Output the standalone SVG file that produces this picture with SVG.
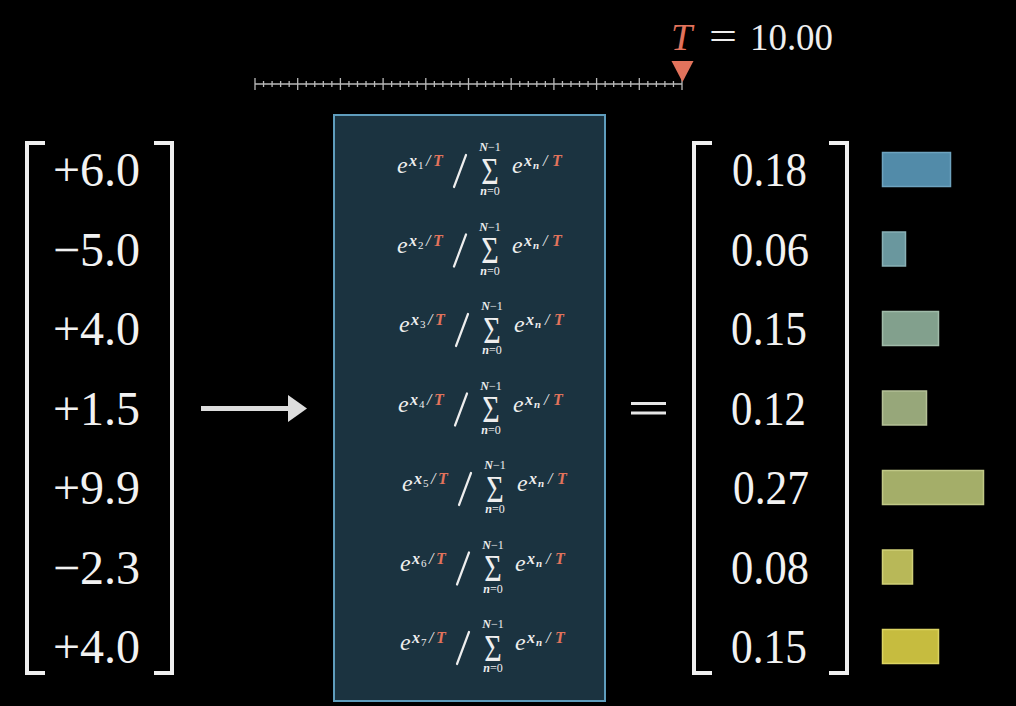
<svg xmlns="http://www.w3.org/2000/svg" width="1016" height="706" viewBox="0 0 1016 706">
<defs>
<style>
.num{font-family:"Liberation Serif","DejaVu Serif",serif;font-size:48px;fill:#f2f2f2}
.m{font-family:"Liberation Serif","DejaVu Serif",serif;fill:#eeeeee}
.it{font-style:italic}
.bx{font-weight:bold;font-style:italic}
.or{fill:#e2735c}
.br{fill:none;stroke:#f0f0f0;stroke-width:4}
.bar{stroke-width:1.5}
.sl{stroke:#eeeeee;stroke-width:2.2;stroke-linecap:round}
</style>
<g id="frac">
<text class="m it" x="397" y="173" font-size="24">e</text>
<text class="m bx" x="409" y="166" font-size="16">x</text>
<text class="m it" x="426" y="166" font-size="16">/</text>
<text class="m it or" x="433" y="166" font-size="16" font-weight="bold">T</text>
<line class="sl" x1="454" y1="187" x2="466" y2="155"/>
<text class="m" x="490" y="151" font-size="12" text-anchor="middle"><tspan font-style="italic" font-weight="bold">N</tspan>−1</text>
<text class="m" x="490" y="184" font-size="30" text-anchor="middle" transform="translate(490,184) scale(1,1.25) translate(-490,-184)">Σ</text>
<text class="m" x="490" y="195" font-size="12" text-anchor="middle"><tspan font-style="italic" font-weight="bold">n</tspan>=0</text>
<text class="m it" x="512" y="173" font-size="24">e</text>
<text class="m bx" x="524" y="166" font-size="16">x</text>
<text class="m bx" x="533" y="169" font-size="11">n</text>
<text class="m it" x="543" y="166" font-size="16">/</text>
<text class="m it or" x="552" y="166" font-size="16" font-weight="bold">T</text>
</g>
</defs>
<rect width="1016" height="706" fill="#000"/>

<g id="slider">
<line x1="255" y1="84" x2="682" y2="84" stroke="#b8b8b8" stroke-width="1.5"/>
<path stroke="#b8b8b8" stroke-width="1.3" d="M255 78V90M263.54 81V87M272.08 81V87M280.62 81V87M289.16 81V87M297.7 78V90M306.24 81V87M314.78 81V87M323.32 81V87M331.86 81V87M340.4 78V90M348.94 81V87M357.48 81V87M366.02 81V87M374.56 81V87M383.1 78V90M391.64 81V87M400.18 81V87M408.72 81V87M417.26 81V87M425.8 78V90M434.34 81V87M442.88 81V87M451.42 81V87M459.96 81V87M468.5 78V90M477.04 81V87M485.58 81V87M494.12 81V87M502.66 81V87M511.2 78V90M519.74 81V87M528.28 81V87M536.82 81V87M545.36 81V87M553.9 78V90M562.44 81V87M570.98 81V87M579.52 81V87M588.06 81V87M596.6 78V90M605.14 81V87M613.68 81V87M622.22 81V87M630.76 81V87M639.3 78V90M647.84 81V87M656.38 81V87M664.92 81V87M673.46 81V87M682 78V90"/>
<polygon points="671.5,61 693.5,61 682.5,82" fill="#e2735c"/>
<text class="m it or" x="671" y="50" font-size="38">T</text>
<text class="m" x="709" y="50" font-size="40" textLength="28" lengthAdjust="spacingAndGlyphs">=</text>
<text class="m" x="750" y="50" font-size="37" textLength="83" lengthAdjust="spacingAndGlyphs">10.00</text>
</g>

<g id="input-vector">
<path class="br" d="M45 143H27V673H45M154 143H172V673H154"/>
<text class="num" x="53" y="186">+6.0</text>
<text class="num" x="53" y="265.5">−5.0</text>
<text class="num" x="53" y="345">+4.0</text>
<text class="num" x="53" y="424.5">+1.5</text>
<text class="num" x="53" y="504">+9.9</text>
<text class="num" x="53" y="583.5">−2.3</text>
<text class="num" x="53" y="663">+4.0</text>
</g>

<g id="softmax-box">
<rect x="334" y="115" width="271" height="586" fill="#1b3340" stroke="#5f9dbd" stroke-width="2"/>
<g id="formula-1"><use href="#frac"/><text class="m" x="418" y="169" font-size="11">1</text></g>
<g id="formula-2" transform="translate(0,79.5)"><use href="#frac"/><text class="m" x="418" y="169" font-size="11">2</text></g>
<g id="formula-3" transform="translate(2,159)"><use href="#frac"/><text class="m" x="418" y="169" font-size="11">3</text></g>
<g id="formula-4" transform="translate(1,238.5)"><use href="#frac"/><text class="m" x="418" y="169" font-size="11">4</text></g>
<g id="formula-5" transform="translate(5,318)"><use href="#frac"/><text class="m" x="418" y="169" font-size="11">5</text></g>
<g id="formula-6" transform="translate(3,397.5)"><use href="#frac"/><text class="m" x="418" y="169" font-size="11">6</text></g>
<g id="formula-7" transform="translate(3,477)"><use href="#frac"/><text class="m" x="418" y="169" font-size="11">7</text></g>
</g>

<g id="connectors">
<line x1="201" y1="408.5" x2="290" y2="408.5" stroke="#dddddd" stroke-width="5"/>
<polygon points="288,395 307,408.5 288,422" fill="#dddddd"/>
</g>

<g id="equals">
<line x1="631" y1="403.5" x2="666" y2="403.5" stroke="#e6e6e6" stroke-width="3"/>
<line x1="631" y1="413" x2="666" y2="413" stroke="#e6e6e6" stroke-width="3"/>
</g>

<g id="output-vector">
<path class="br" d="M712 143H694V673H712M829 143H847V673H829"/>
<text class="num" x="732" y="186" textLength="75" lengthAdjust="spacingAndGlyphs">0.18</text>
<text class="num" x="731" y="265.5" textLength="78" lengthAdjust="spacingAndGlyphs">0.06</text>
<text class="num" x="731" y="345" textLength="76" lengthAdjust="spacingAndGlyphs">0.15</text>
<text class="num" x="731" y="424.5" textLength="75" lengthAdjust="spacingAndGlyphs">0.12</text>
<text class="num" x="733" y="504" textLength="76" lengthAdjust="spacingAndGlyphs">0.27</text>
<text class="num" x="731" y="583.5" textLength="78" lengthAdjust="spacingAndGlyphs">0.08</text>
<text class="num" x="731" y="663" textLength="76" lengthAdjust="spacingAndGlyphs">0.15</text>
</g>

<g id="bars">
<rect class="bar" x="882.5" y="152.5" width="68" height="34" fill="#528ba9" stroke="#6ea3bf"/>
<rect class="bar" x="882.5" y="232" width="23" height="34" fill="#6a979e" stroke="#88b0b5"/>
<rect class="bar" x="882.5" y="311.5" width="56" height="34" fill="#82a08d" stroke="#a0bba9"/>
<rect class="bar" x="882.5" y="391" width="44" height="34" fill="#97a77a" stroke="#b4c096"/>
<rect class="bar" x="882.5" y="470.5" width="101" height="34" fill="#a4ae69" stroke="#c0c886"/>
<rect class="bar" x="882.5" y="550" width="30" height="34" fill="#b8b858" stroke="#d0d077"/>
<rect class="bar" x="882.5" y="629.5" width="56" height="34" fill="#c6bc3f" stroke="#dcd462"/>
</g>
</svg>
